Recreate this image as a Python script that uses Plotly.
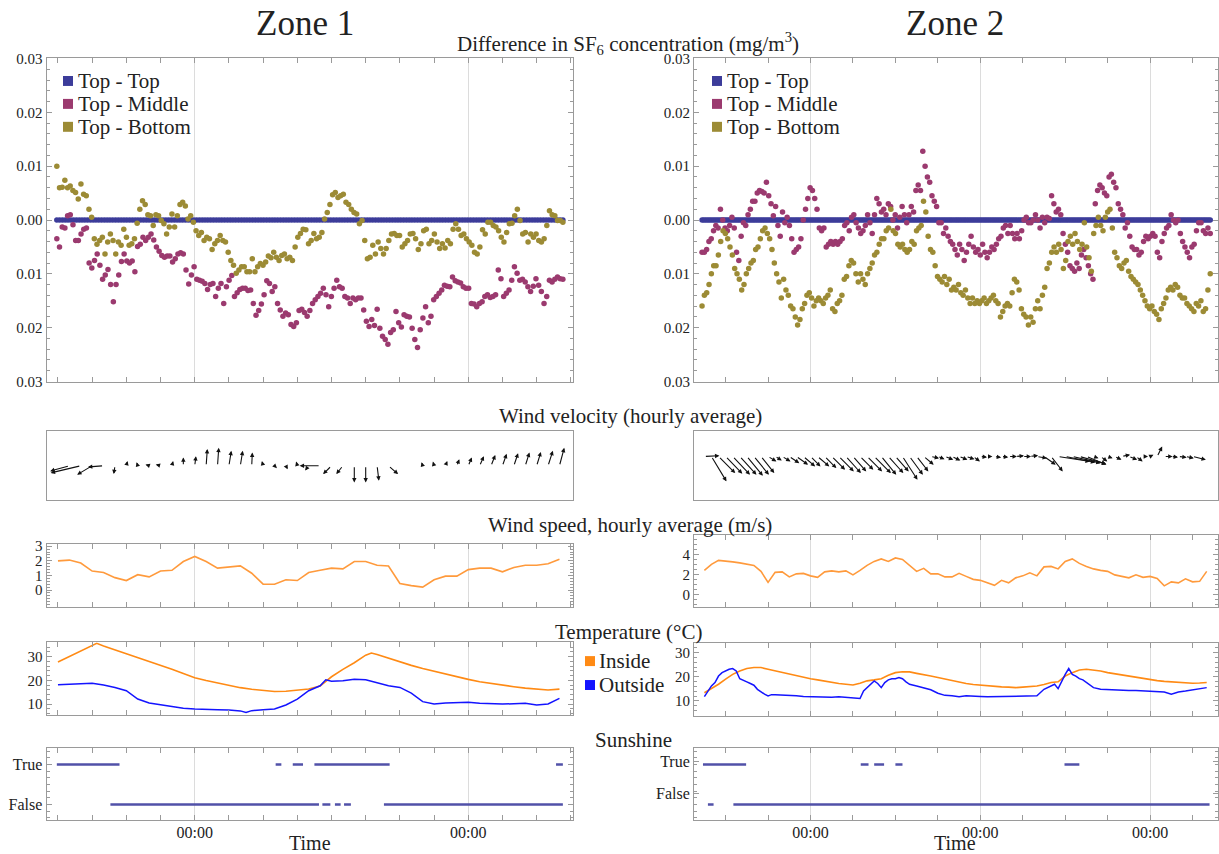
import numpy as np
import plotly.graph_objects as go

FONT = "Liberation Serif"
TXT = "#222222"
FRAME = "#9a9a9a"
GRID = "#dcdcdc"
C_TT, C_TM, C_TB = "#3c3c9a", "#9b3a6f", "#9c8b35"
C_IN, C_OUT, C_SPEED, C_SUN = "#ff8a14", "#1414ff", "#ff9a3c", "#5151a8"

# ------------------------------------------------------------------ DATA
# time is in hours relative to the first midnight of each zone
# SF6 concentration differences, in 1e-3 mg/m3
z1_sf6_start, z1_sf6_end = -12.1, 32.3
z1_top_top = [0.0] * 182
z1_top_middle = [-3.5, -5, -1.3, -1.5, 0.8, 1, -0.9, -3.8, -3.8, -2.6, -1.7, -1.5, -8, -8.9, -7.5, -6.3, -8.4, -11, -10.2, -9.2,
                 -12, -15.2, -12, -10.2, -7.7, -6.3, -7.6, -8, -7.6, -9.6, -4.9, -4.5, -3.2, -3.8, -3.2, -2.6, -3.7, -5, -5.8, -6.6,
                 -6.9, -6.7, -6.7, -7.8, -7.2, -6.3, -6.1, -6.3, -9.3, -11.9, -10.2, -8.7, -11, -11.2, -11.4, -11.8, -12.9, -12, -11.8, -14.2,
                 -12.7, -11.8, -15.5, -12.4, -11.2, -10.3, -14.2, -13.5, -12.9, -12.7, -12.7, -13.1, -13, -15.5, -17.7, -16.8, -15.6, -13.9, -11.3, -11.8,
                 -13.3, -12.4, -15.5, -16.7, -17.9, -17.3, -17.6, -19.4, -19.8, -19.1, -16.8, -16.6, -17.2, -17.9, -16.8, -15.5, -14.8, -14.2, -13.6, -12.7,
                 -13.9, -16.1, -14.2, -12.7, -11.2, -12.4, -12.7, -14.2, -14.5, -15.5, -14.5, -14.8, -14.5, -14.5, -16.7, -18.8, -19.8, -18.5, -19.6, -16.6,
                 -20.1, -21.6, -22.2, -23.1, -20.9, -20.4, -17, -19.1, -19.9, -17.6, -17.9, -18, -20.1, -22.2, -23.7, -20.4, -18.2, -16.1, -19.1, -17.9,
                 -14.8, -14.2, -13.6, -13, -12.1, -12.3, -12.4, -10.6, -11.3, -11.5, -11.7, -12.4, -12.7, -12.7, -15.5, -15.6, -16.1, -15.5, -15.2, -14.2,
                 -13.9, -14.4, -14.2, -13.9, -9.3, -10.9, -14.2, -13.6, -13, -11.2, -8.7, -9.9, -11.2, -11, -11.5, -12.4, -13.3, -12.3, -10.9, -12.1,
                 -13.3, -15.5, -14.2, -11.2, -11.5, -11, -10.6, -10.9, -11]
z1_top_bottom = [10, 6, 6.1, 7.4, 6, 6.3, 5.5, 5.1, 3.9, 6.7, 4.8, 4.5, 2, 0.5, -3.5, -4.5, -3.8, -3.2, -6.3, -4.1,
                 -2.6, -3.8, -6.3, -4.1, -4.7, -1.7, -3.2, -4.7, -4.4, -3.5, -0.6, 2, 3.6, 2.9, 1, 0.8, -1, 1, 0.8, -0.1,
                 -0.7, -2.6, -1.3, 1.1, -1.3, 0.8, 2.9, 3.3, 2.6, 0.2, 0.8, -0.4, -2, -2.9, -2.3, -3.8, -3.2, -3.5, -5.5, -4.4,
                 -3.8, -2.9, -3.8, -4.1, -6, -7.5, -8.4, -9.9, -9.3, -8.7, -8.7, -9.6, -9.6, -7.2, -9.6, -8.7, -8.1, -8.4, -7.8, -6.7,
                 -7, -6, -6.9, -7.5, -6.6, -6.3, -7.2, -6.9, -7.5, -5, -3.2, -2.5, -1.7, -1.8, -4.4, -3.8, -2.5, -3.5, -3.2, -2.3,
                 0.2, 1.4, 2.9, 4.7, 5.1, 4.2, 4.5, 4.8, 3.3, 2.9, 2, 1.4, 1.1, -0.7, -0.1, -3.8, -7.2, -6.9, -4.7, -6.3,
                 -4.1, -5.3, -6.3, -5.3, -3.8, -2.6, -2.5, -2.9, -2.9, -5, -4.4, -3.8, -2.6, -2.5, -3.5, -5.5, -4.4, -2, -1.7, -4.4,
                 -3.8, -2.6, -4.1, -5.3, -4.4, -5.2, -3.8, -4.4, -1.7, -0.7, -1.7, -2.9, -2.6, -3.5, -4.1, -4.7, -6, -6.3, -5, -1.8,
                 -2.6, -0.4, -0.4, -1, -1.3, -2, -3.2, -4.1, -2.3, -0.7, -0.6, 0.8, 2, -0.1, -2.6, -2.3, -4.1, -2.6, -3.2, -2.6,
                 -3.8, -4.1, -3.5, -1, 1.7, 1, 0.8, -0.1, -0.1, -0.4]

z2_sf6_start, z2_sf6_end = -15.33, 56.5
z2_top_top = [0.0] * 290
z2_top_middle = [-6, -6, -5.5, -4, -3.5, -2, -1, -1.5, 2, 0, -1.5, -2, -1, 0.5, -1.5, -6, -7.5, -3, -0.5, -1,
                 1, 2, 3.5, 3.5, 5, 5.5, 5.3, 5, 7, 4.5, 3, 0.8, 2.5, -1, -3, 1.5, -0.5, 0.5, -1, -3.5,
                 -6, -5.5, -5, -3.5, 0, 2, 4, 6, 5.5, 4, 2, -1.5, -2, -1.5, -5, -4.5, -4, -4.5, -4, -4.5,
                 -4, -3.5, -1, -0.5, -2, 0.5, 1, -0.5, -1.5, -2.5, -2, -1, 1, -0.5, -2.5, 1, 4, 3, 1.5, 2,
                 1, 3, 2.5, 0, 1, -1.5, 0.5, 2.5, 1, -0.5, 1, 2.5, 1.5, 5.5, 6.5, 5.5, 12.8, 10, 8, 7,
                 4.5, 3.5, 2.5, -0.5, -0.5, -2.5, -1.5, -3, -4, -4.5, -5.5, -6.5, -4.5, -5.5, -7.5, -6, -4.5, -3, -5, -6,
                 -5.5, -6.5, -4.5, -6, -7, -6, -5, -5.5, -4.5, -3.5, -3, -1.5, -1, -2.5, -1, -2.5, -3.5, -2.5, -3.5, -2,
                 0, 0.5, -0.5, -0.5, 0, 1, 0, -1.5, 0.5, -0.5, 0.5, 0.3, 4.5, 3, 1.5, 2, 1, -2.5, -4.5, -6,
                 -8.5, -9, -9.5, -8, -9, -6.5, -5.5, -7, -8.5, -10, -11, 3, 5.5, 6.5, 6, 5, 4.5, 8, 8.5, 7,
                 6, 3, 2, 1, -1.5, -0.5, -3, -5, -5.5, -5.5, -6.5, -6, -4, -3, -3.5, -3, -2.5, -3, -6, -7,
                 -4, -2.5, -1.5, -1, 1, 0, -0.5, 0, -2.5, -4, -5, -6, -7, -5, -4.5, -2, -0.5, -0.5, -2, -2.5,
                 -1.5, -2.5]
z2_top_bottom = [-16, -14, -13.5, -12, -10, -8.5, -8.5, -6.5, -4, -2, -2.5, -3.5, -5, -6.5, -9, -10, -11, -13, -12, -10,
                 -9, -8, -7.5, -5.5, -5, -3.5, -2, -1.5, -2.5, -3.5, -5.5, -8, -10, -11.5, -14.5, -11, -13, -14, -16, -16.5,
                 -18, -19.5, -18.5, -16.5, -15.5, -14, -13.5, -14.5, -16, -15, -14.5, -15, -15.5, -14.5, -14, -13, -16.5, -17, -15.5, -15,
                 -14, -11, -10.5, -8.5, -7.5, -8, -10, -11.5, -10, -11, -12, -10, -9, -8, -6.5, -6, -4.5, -3.5, -3.5, -2,
                 -1.5, 2, -2, -2.5, -4.5, -5, -4.5, -5.5, -6, -5.5, -4, -4.5, -2, -1.5, -1, 3.5, 1.5, -3, -5.5, -6,
                 -8.5, -10.5, -11, -11.5, -10.5, -12, -11, -13, -12.5, -13, -12, -13.5, -14, -13, -14.5, -15.5, -14.5, -15.5, -15, -15.5,
                 -15, -14.5, -15.5, -15, -14.5, -14, -15, -15.5, -18, -17, -16, -15.5, -16, -13.5, -11, -11.5, -13, -16.5, -17.5, -18,
                 -19.5, -18, -19, -16.5, -15, -16.5, -14, -12.5, -9, -8, -6, -5, -6, -4.5, -5.5, -9, -7.5, -4, -3, -4.5,
                 -2.5, -4, -5.5, -4.5, -0.5, -5, -7, -9.5, -2.5, -1, 0.5, -1, -2, 0.5, 1.5, 2, -1.5, -6, -7, -8.5,
                 -9, -8, -7.5, -9.5, -10.5, -11, -11.5, -12, -13, -14, -15, -16, -16.5, -16, -17, -17.5, -18.5, -16.5, -15.5, -14.5,
                 -13, -12.5, -13, -12, -12.5, -14, -14.5, -14.5, -15.5, -16, -16.5, -17, -15.5, -16, -15, -17, -16.5, -13, -10]

# hourly wind vectors (m/s): tails at hourly times
z1_wind_hours = list(range(-12, 33))
z1_wind_u = [-0.2, -1.6, -2.5, -1.25, -1.3, -0.1, 0.1, -0.1, -0.3, -0.4, 0.1, 0.0, 0.1, 0.1, 0.1, 0.2, 0.2, 0.05, -0.1, 0.2,
             0.15, -0.1, -0.3, -1.7, -0.7, -0.55, 0.0, 0.0, 0.15, 0.8, -0.15, -0.15, -0.1, -0.1, 0.15, 0.2, 0.3, 0.35, 0.35, 0.35,
             0.35, 0.35, 0.35, 0.4, 0.4]
z1_wind_v = [-0.1, -0.45, -0.6, -0.75, -0.1, -0.7, 0.4, 0.3, 0.1, 0.1, 0.4, 0.7, 0.8, 1.4, 1.5, 1.25, 1.25, 1.1, 0.4, -0.2,
             -0.3, 0.35, -0.4, 0.0, -0.7, -0.7, -1.4, -1.4, -1.25, -0.7, 0.2, 0.2, 0.3, 0.35, 0.4, 0.55, 0.7, 0.8, 0.9, 1.0,
             1.05, 1.1, 1.15, 1.25, 1.5]
z2_wind_hours = list(range(-15, 55))
z2_wind_u = [1.5, 1.5, 1.67, 1.67, 1.73, 1.67, 1.6, 1.5, 1.33, 0.83, 0.67, 0.83, 1.0, 1.17, 1.17, 1.0, 1.17, 1.17, 1.33, 1.5,
             1.5, 1.33, 1.33, 1.5, 1.67, 1.5, 1.5, 1.33, 1.5, 1.33, 1.17, 1.0, 0.83, 0.67, 0.83, 0.83, 0.83, 0.83, 0.67, 0.67,
             0.5, 0.67, 0.67, 0.83, 0.83, 0.83, 0.83, 1.0, 1.17, 1.17, 3.17, 3.0, 2.83, 2.67, 2.0, 0.5, 0.67, 0.5, 0.67, 0.83,
             0.83, 0.67, 0.5, 0.33, 0.5, 0.83, 0.67, 0.83, 0.83, 1.33]
z2_wind_v = [0.07, -2.5, -1.67, -1.73, -1.83, -1.83, -1.93, -1.83, -1.67, -0.5, -0.4, -0.5, -0.67, -0.83, -1.0, -1.0, -1.0, -1.17, -1.33, -1.5,
             -1.67, -1.5, -1.33, -1.5, -1.67, -1.83, -1.67, -1.5, -2.33, -1.83, -1.5, -0.83, -0.17, -0.27, -0.33, -0.4, -0.33, -0.27, -0.5, -0.07,
             0.0, -0.1, -0.07, 0.0, 0.07, 0.0, 0.1, -0.17, -0.83, -1.5, -0.5, -0.6, -0.67, -0.73, -0.83, -0.17, -0.5, -0.17, -0.33, 0.17,
             -0.33, -0.5, 0.0, 0.17, 1.0, 0.0, -0.07, -0.1, -0.17, -0.33]

# hourly wind speed (m/s)
z1_speed_hours = list(range(-12, 33))
z1_speed = [2.0, 2.05, 1.85, 1.3, 1.2, 0.85, 0.65, 1.05, 0.9, 1.3, 1.35, 1.95, 2.3, 1.95, 1.5, 1.55, 1.65, 1.15, 0.4, 0.4,
            0.7, 0.65, 1.2, 1.35, 1.5, 1.45, 1.95, 1.95, 1.7, 1.65, 0.45, 0.3, 0.2, 0.7, 0.95, 0.95, 1.4, 1.5, 1.5, 1.25,
            1.55, 1.7, 1.7, 1.8, 2.1]
z2_speed_hours = list(range(-15, 57))
z2_speed = [2.4, 3.0, 3.4, 3.35, 3.25, 3.15, 3.05, 2.9, 2.3, 1.2, 2.2, 2.25, 1.75, 2.05, 2.1, 1.85, 1.7, 2.25, 2.35, 2.25,
            2.35, 1.95, 2.4, 2.9, 3.3, 3.55, 3.3, 3.65, 3.5, 2.9, 2.3, 2.6, 2.05, 2.05, 1.75, 1.75, 2.1, 1.8, 1.5, 1.4,
            1.15, 0.9, 1.4, 1.15, 1.65, 1.85, 2.15, 1.85, 2.75, 2.8, 2.55, 3.3, 3.55, 3.1, 2.8, 2.55, 2.4, 2.3, 1.95, 1.8,
            1.65, 1.95, 1.7, 1.8, 1.6, 0.85, 1.25, 1.15, 1.55, 1.25, 1.3, 2.3]

# temperature (deg C)
z1_in_hours = [-12, -11, -10, -9, -8.6, -8, -7, -6, -5, -4, -3, -2, -1, 0, 1, 2, 3, 4, 5, 6, 7, 8, 9, 10, 11, 12, 13, 14, 15,
               15.5, 16, 17, 18, 19, 20, 21, 22, 23, 24, 25, 26, 27, 28, 29, 30, 31, 32]
z1_inside = [27.7, 30.0, 32.3, 34.6, 35.6, 34.5, 32.9, 31.3, 29.7, 28.0, 26.3, 24.7, 22.9, 21.1, 19.9, 18.8, 17.8, 16.9, 16.2,
             15.6, 15.3, 15.4, 15.9, 16.3, 17.6, 21.5, 24.6, 27.4, 30.6, 31.5, 30.9, 29.3, 27.8, 26.3, 25.0, 23.8, 22.6, 21.5,
             20.4, 19.4, 18.6, 17.9, 17.3, 16.7, 16.2, 15.9, 16.3]
z1_out_hours = [-12, -11, -10, -9, -8, -7, -6, -5, -4, -3, -2, -1, 0, 1, 2, 3, 4, 4.5, 5, 6, 7, 8, 9, 10, 11, 11.5, 12, 13, 14,
                15, 16, 17, 18, 19, 20, 21, 22, 23, 24, 25, 26, 27, 28, 29, 30, 31, 32]
z1_outside = [18.1, 18.3, 18.8, 18.8, 18.0, 17.0, 15.6, 12.1, 10.4, 9.6, 9.0, 8.2, 7.9, 7.6, 7.6, 7.5, 7.1, 6.4, 7.2, 7.6,
              7.9, 9.6, 12.1, 15.6, 17.7, 20.2, 19.6, 19.8, 20.5, 20.2, 19.1, 17.7, 17.0, 14.6, 11.0, 10.0, 10.4, 10.4, 10.7,
              10.3, 10.0, 10.0, 10.1, 10.3, 9.6, 10.0, 12.4]
z2_in_hours = list(range(-15, 57))
z2_inside = [13.4, 15.1, 16.9, 19.0, 21.0, 22.4, 23.4, 23.8, 23.8, 23.1, 22.4, 21.7, 21.0, 20.3, 19.8, 19.2, 18.7, 18.1, 17.6,
             17.2, 16.9, 16.6, 17.3, 18.3, 18.7, 19.2, 20.6, 21.7, 22.1, 22.0, 21.4, 21.0, 20.3, 19.7, 19.0, 18.3, 17.6, 17.2,
             16.8, 16.5, 16.2, 15.9, 15.8, 15.7, 15.5, 15.7, 15.8, 16.2, 16.8, 17.6, 17.9, 20.3, 21.7, 22.8, 23.1, 22.8, 22.4,
             21.7, 21.2, 20.6, 20.1, 19.7, 19.2, 18.8, 18.4, 18.1, 17.9, 17.6, 17.4, 17.3, 17.4, 17.6]
z2_out_hours = [-15, -14.5, -14, -13.5, -13, -12.5, -12, -11.5, -11, -10.5, -10, -9.5, -9, -8.5, -8, -7.5, -7, -6.5, -6, -5.5,
                -5, -4, -3, -2, -1, 0, 1, 2, 3, 4, 5, 6, 7, 7.5, 8, 8.5, 9, 9.5, 10, 10.5, 11, 11.5, 12, 12.5, 13, 13.5,
                14, 15, 16, 17, 18, 19, 20, 21, 22, 23, 24, 25, 26, 27, 28, 29, 30, 31, 32, 33, 33.5, 34, 34.5, 35, 35.5,
                36, 36.5, 37, 37.5, 38, 38.5, 39, 40, 41, 42, 43, 44, 45, 46, 47, 48, 49, 50, 51, 52, 53, 54, 55, 56]
z2_outside = [11.8, 14.1, 16.2, 17.6, 20.3, 21.7, 22.4, 23.1, 23.4, 22.4, 19.2, 18.7, 17.9, 17.2, 16.5, 14.8, 13.7, 12.8, 12.1,
              12.6, 12.6, 12.5, 12.3, 12.1, 11.8, 11.7, 11.4, 11.4, 11.5, 11.7, 11.5, 11.0, 11.0, 14.1, 15.5, 16.9, 18.3, 17.2,
              15.5, 17.6, 18.7, 19.2, 19.2, 19.7, 19.2, 17.9, 16.9, 16.2, 15.5, 14.6, 13.2, 12.3, 12.1, 11.7, 12.1, 11.8, 11.8,
              11.7, 11.8, 11.9, 11.9, 11.8, 11.9, 12.1, 12.1, 14.8, 15.5, 16.5, 16.9, 15.1, 18.3, 21.0, 23.4, 21.0, 20.3, 19.2,
              18.7, 17.6, 15.5, 14.8, 14.6, 14.4, 14.4, 14.3, 14.3, 14.1, 14.1, 13.9, 13.7, 12.8, 13.7, 14.1, 14.6, 14.8, 15.5]

# sunshine: (start hour, end hour) runs
z1_sun_true = [(-12.1, -6.6), (7.1, 7.6), (8.6, 9.5), (10.5, 17.1), (31.7, 32.3)]
z1_sun_false = [(-7.4, 10.9), (11.2, 11.9), (12.3, 12.8), (13.1, 13.7), (16.6, 32.3)]
z2_sun_true = [(-15.2, -9.1), (7.1, 8.2), (9.0, 10.4), (12.0, 13.0), (35.9, 38.0)]
z2_sun_false = [(-14.5, -13.7), (-10.9, 56.4)]

series_names = ["Top - Top", "Top - Middle", "Top - Bottom"]
temp_names = ["Inside", "Outside"]
midnights = {1: [0, 24], 2: [0, 24, 48]}

# ------------------------------------------------------------------ LAYOUT GEOMETRY
W, H = 1219, 854
# the rendered page maps paper y to screen pixels with a small vertical offset/scale; compensate
V_OFF, V_SC = 5.8, 0.9856


def px_y(p):
    """paper-y fraction for a target pixel row (from top)."""
    return 1 - ((p - V_OFF) / V_SC) / H


COLX = {1: [0.0382, 0.4697], 2: [0.5693, 0.9992]}
XR = {1: [-13.0, 33.15], 2: [-16.47, 57.6]}
XSTEP = {1: 3, 2: 6}
ROWPX = {
    (1, 1): (57, 382), (1, 2): (57, 382),
    (2, 1): (431, 500.7), (2, 2): (431, 500.7),
    (3, 1): (545, 608), (3, 2): (536, 608),
    (4, 1): (643, 716), (4, 2): (644, 717),
    (5, 1): (749, 821), (5, 2): (749, 821),
}
ROWY = {k: [px_y(b), px_y(t)] for k, (t, b) in ROWPX.items()}
WIND_SCALE = {1: 1.054, 2: 1.414}   # hours of x per m/s so arrows keep their shape


def ax_id(row, col):
    return row + 5 * (col - 1)


def xname(n):
    return "x" if n == 1 else f"x{n}"


def yname(n):
    return "y" if n == 1 else f"y{n}"


fig = go.Figure()

zones = {
    1: dict(start=z1_sf6_start, end=z1_sf6_end, tt=z1_top_top, tm=z1_top_middle, tb=z1_top_bottom,
            wh=z1_wind_hours, wu=z1_wind_u, wv=z1_wind_v, sh=z1_speed_hours, sp=z1_speed,
            ih=z1_in_hours, ins=z1_inside, oh=z1_out_hours, out=z1_outside,
            st=z1_sun_true, sf=z1_sun_false),
    2: dict(start=z2_sf6_start, end=z2_sf6_end, tt=z2_top_top, tm=z2_top_middle, tb=z2_top_bottom,
            wh=z2_wind_hours, wu=z2_wind_u, wv=z2_wind_v, sh=z2_speed_hours, sp=z2_speed,
            ih=z2_in_hours, ins=z2_inside, oh=z2_out_hours, out=z2_outside,
            st=z2_sun_true, sf=z2_sun_false),
}

annotations = []
shapes = []

for col, z in zones.items():
    # --- scatter of SF6 differences
    n = ax_id(1, col)
    for name, vals, colr in zip(series_names, [z["tt"], z["tm"], z["tb"]], [C_TT, C_TM, C_TB]):
        t = np.linspace(z["start"], z["end"], len(vals))
        fig.add_trace(go.Scatter(x=t, y=np.array(vals) * 1e-3, mode="markers", name=name,
                                 marker=dict(size=5.5, color=colr), showlegend=False,
                                 xaxis=xname(n), yaxis=yname(n), hoverinfo="skip"))
    # --- wind arrows
    n = ax_id(2, col)
    s = WIND_SCALE[col]
    for h, u, v in zip(z["wh"], z["wu"], z["wv"]):
        annotations.append(dict(x=h + u * s, y=v, ax=h, ay=0, xref=xname(n), yref=yname(n),
                                axref=xname(n), ayref=yname(n), text="", showarrow=True,
                                arrowhead=2, arrowsize=0.8, arrowwidth=1.1, arrowcolor="#111111",
                                standoff=0, startstandoff=0))
    # --- wind speed
    n = ax_id(3, col)
    fig.add_trace(go.Scatter(x=z["sh"], y=z["sp"], mode="lines", line=dict(color=C_SPEED, width=1.6),
                             showlegend=False, xaxis=xname(n), yaxis=yname(n)))
    # --- temperature
    n = ax_id(4, col)
    fig.add_trace(go.Scatter(x=z["ih"], y=z["ins"], mode="lines", line=dict(color=C_IN, width=1.6),
                             name="Inside", showlegend=False, xaxis=xname(n), yaxis=yname(n)))
    fig.add_trace(go.Scatter(x=z["oh"], y=z["out"], mode="lines", line=dict(color=C_OUT, width=1.5),
                             name="Outside", showlegend=False, xaxis=xname(n), yaxis=yname(n)))
    # --- sunshine
    n = ax_id(5, col)
    for segs, level in [(z["st"], 1), (z["sf"], 0)]:
        xs, ys = [], []
        for a, b in segs:
            xs += [a, b, None]
            ys += [level, level, None]
        fig.add_trace(go.Scatter(x=xs, y=ys, mode="lines", line=dict(color=C_SUN, width=2.6),
                                 showlegend=False, xaxis=xname(n), yaxis=yname(n)))


# ------------------------------------------------------------------ LEGENDS (swatch + label, Mathematica style)
def legend_block(names, colors, sq_cx, text_x, y_centers, size=21):
    for name, colr, yc in zip(names, colors, y_centers):
        shapes.append(dict(type="rect", xref="paper", yref="paper",
                           x0=(sq_cx - 5) / W, x1=(sq_cx + 5) / W,
                           y0=px_y(yc + 5), y1=px_y(yc - 5),
                           fillcolor=colr, line=dict(width=0)))
        annotations.append(dict(text=name, x=text_x / W, y=px_y(yc), xref="paper", yref="paper",
                                showarrow=False, xanchor="left", yanchor="middle",
                                font=dict(family=FONT, size=size, color=TXT)))


legend_block(series_names, [C_TT, C_TM, C_TB], 68, 76, [80, 103, 126])
legend_block(series_names, [C_TT, C_TM, C_TB], 717, 725, [80, 103, 126])
legend_block(temp_names, [C_IN, C_OUT], 590, 597, [662, 686])

# ------------------------------------------------------------------ AXES
layout = {}
tickfont = dict(family=FONT, size=15, color=TXT)

for col in (1, 2):
    for row in range(1, 6):
        n = ax_id(row, col)
        xa = dict(domain=COLX[col], range=XR[col], anchor=yname(n), showline=True, linecolor=FRAME,
                  linewidth=1, zeroline=False, tickmode="array", tickvals=midnights[col],
                  ticktext=["00:00"] * len(midnights[col]), showticklabels=(row == 5),
                  tickfont=dict(family=FONT, size=16, color=TXT))
        if row == 5:
            xa["ticklabelstandoff"] = -2
        ya = dict(domain=ROWY[(row, col)], anchor=xname(n), showline=True, linecolor=FRAME,
                  linewidth=1, zeroline=False, showgrid=False, tickfont=tickfont)
        if row == 2:
            xa.update(mirror=True, ticks="", showgrid=False, showticklabels=False)
            ya.update(mirror=True, ticks="", showticklabels=False,
                      range=[-2.89, 2.92] if col == 1 else [-4.4, 2.57])
        else:
            xa.update(mirror="ticks", ticks="inside", ticklen=5, tickcolor=FRAME, showgrid=True,
                      gridcolor=GRID, gridwidth=1,
                      minor=dict(ticks="inside", ticklen=5, tickcolor=FRAME, tickmode="linear",
                                 tick0=0, dtick=XSTEP[col], showgrid=False))
            ya.update(mirror="ticks", ticks="inside", ticklen=5, tickcolor=FRAME, tickmode="array")
            if row == 1:
                vals = [-0.03, -0.02, -0.01, 0.0, 0.01, 0.02, 0.03]
                ya.update(range=[-0.0301, 0.0301], tickvals=vals,
                          ticktext=["0.03", "0.02", "0.01", "0.00", "0.01", "0.02", "0.03"],
                          minor=dict(ticks="inside", ticklen=3, tickcolor=FRAME, tickmode="linear",
                                     tick0=0, dtick=0.002))
            elif row == 3:
                if col == 1:
                    ya.update(range=[-1.18, 3.12], tickvals=[0, 1, 2, 3], ticktext=["0", "1", "2", "3"],
                              minor=dict(ticks="inside", ticklen=3, tickcolor=FRAME, tickmode="linear",
                                         tick0=0, dtick=0.2))
                else:
                    ya.update(range=[-1.3, 5.9], tickvals=[0, 2, 4], ticktext=["0", "2", "4"],
                              minor=dict(ticks="inside", ticklen=3, tickcolor=FRAME, tickmode="linear",
                                         tick0=0, dtick=0.5))
            elif row == 4:
                ya.update(range=[5.4, 36.1] if col == 1 else [3.8, 33.9], tickvals=[10, 20, 30],
                          ticktext=["10", "20", "30"],
                          minor=dict(ticks="inside", ticklen=3, tickcolor=FRAME, tickmode="linear",
                                     tick0=0, dtick=2))
            else:
                ya.update(range=[-0.38, 1.42],
                          tickvals=[0, 1] if col == 1 else [0.27, 1.085],
                          ticktext=["False", "True"], tickfont=dict(family=FONT, size=16, color=TXT),
                          minor=dict(ticks="inside", ticklen=3, tickcolor=FRAME, tickmode="linear",
                                     tick0=0, dtick=1 / 6))
        layout["xaxis" if n == 1 else f"xaxis{n}"] = xa
        layout["yaxis" if n == 1 else f"yaxis{n}"] = ya


# ------------------------------------------------------------------ TEXT
def label(text, x_px, y_px, size):
    return dict(text=text, x=x_px / W, y=px_y(y_px), xref="paper", yref="paper", showarrow=False,
                xanchor="center", yanchor="middle", font=dict(family=FONT, size=size, color=TXT))


annotations += [
    label("Zone 1", 305, 22, 35),
    label("Zone 2", 955, 22, 35),
    label("Difference in SF<sub>6</sub> concentration (mg/m<sup>3</sup>)", 628, 42.5, 21),
    label("Wind velocity (hourly average)", 631, 416, 21),
    label("Wind speed, hourly average (m/s)", 630, 525, 21),
    label("Temperature (°C)", 628, 633, 21),
    label("Sunshine", 633, 741, 21),
    label("Time", 310, 844, 20),
    label("Time", 955, 844, 20),
]

fig.update_layout(
    width=W, height=H, margin=dict(l=0, r=0, t=0, b=0),
    paper_bgcolor="white", plot_bgcolor="white",
    font=dict(family=FONT, color=TXT),
    showlegend=False,
    annotations=annotations,
    shapes=shapes,
    **layout,
)

fig.write_html("out.html", config={"displayModeBar": False},
               post_script="document.body.style.margin='0px';document.body.style.overflow='hidden';")
